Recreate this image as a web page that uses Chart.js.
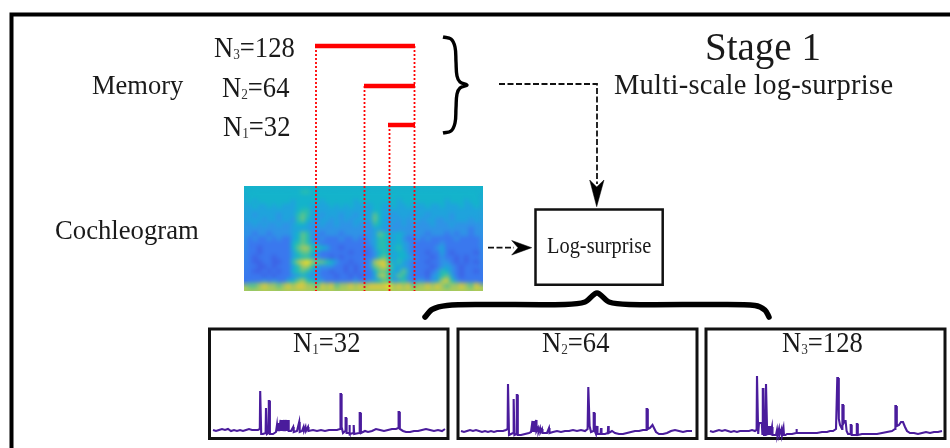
<!DOCTYPE html>
<html lang="en">
<head>
<meta charset="UTF-8">
<title>Stage 1 - Multi-scale log-surprise</title>
<script src="https://cdn.jsdelivr.net/npm/chart.js"></script>
<style>
    body { margin: 0; width: 950px; height: 448px; overflow: hidden; background: #fff; position: relative; }
    canvas { position: absolute; left: 0; top: 0; }
    #cochWrap { position: absolute; left: 244px; top: 186px; width: 239px; height: 105px; overflow: hidden;
                background: linear-gradient(#14b3cb, #2f93e6 45%, #3a78ee 90%, #a6c95e 97%); }
    #cochChart { filter: blur(2px); }
    .mini { filter: blur(0.4px); }
    .t { position: absolute; white-space: nowrap; line-height: 1; color: #1a1a1a; transform-origin: left top;
         font-family: "Liberation Serif", serif; font-size: 28px; }
    .t sub { font-size: 0.5em; vertical-align: -0.08em; line-height: 0; color: #333; }
    .n { transform: scale(.95, 1.06); }
</style>
</head>
<body>
<div id="cochWrap"><canvas id="cochChart" width="239" height="105"></canvas></div>
<canvas id="diagram" width="950" height="448"></canvas>
<canvas id="traceN1" class="mini" width="250" height="123" style="left:205px;top:325px"></canvas>
<canvas id="traceN2" class="mini" width="250" height="123" style="left:455px;top:326px"></canvas>
<canvas id="traceN3" class="mini" width="250" height="123" style="left:702px;top:326px"></canvas>

<div class="t" style="left:705px;top:27px;font-size:39px">Stage 1</div>
<div class="t" style="left:614px;top:71px;font-size:28.5px;letter-spacing:.26px">Multi-scale log-surprise</div>
<div class="t" style="left:92px;top:72px;font-size:26.5px">Memory</div>
<div class="t" style="left:55px;top:217px;font-size:26.7px">Cochleogram</div>
<div class="t n" style="left:214px;top:33px">N<sub>3</sub>=128</div>
<div class="t n" style="left:222px;top:73px">N<sub>2</sub>=64</div>
<div class="t n" style="left:223px;top:112px">N<sub>1</sub>=32</div>
<div class="t" style="left:547px;top:233px;font-size:24px;transform:scaleX(.85)">Log-surprise</div>
<div class="t n" style="left:293px;top:328px">N<sub>1</sub>=32</div>
<div class="t n" style="left:542px;top:328px">N<sub>2</sub>=64</div>
<div class="t n" style="left:782px;top:328px">N<sub>3</sub>=128</div>

<script>
    // log-surprise traces, [time, value]
    const seriesN1 = [[8,0],[11,-1],[14,0],[17,1],[20,0],[23,1],[26,-1],[29,0],[32,-1],[35,0],[38,-1],[41,0],[44,1],[47,0],[50,0],[53,0],[54.8,1],
        [55.2,39],[55.8,39],[56.2,-4],[58,-4],[60.6,-3],[61,22],[61.5,22],[62,-4],[63.4,-3],[63.8,29],[64.4,29],[64.9,-4],[68,-4],[71,-2],
        [72,5],[72.5,-1],[73.6,7],[74.1,-1],[75.6,10],[76.1,-1],[77.4,10],[77.9,-1],[79.4,10],[79.9,-1],[81.4,10],[81.9,-1],[83.2,10],[83.7,-1],
        [86,-1],[88.2,3],[88.7,-2],[92,-1],[94.2,8],[94.7,-2],[97,-1],[98.5,3],[99,-1],[100.5,3],[101,-1],[103,3],[103.5,-1],[108,0],[112,-1],[116,0],[120,-1],[124,0],[128,0],[132,0],[135,1],
        [135.5,36],[136,36],[136.6,3],[138,-3],[140.2,-1],[140.6,12],[141.1,12],[141.6,-3],[144,-3],[144.4,5],[144.9,-4],[148.3,-3],[148.7,5],[149.2,-4],[154,-3],[154.7,17],[155.3,17],[155.9,-3],
        [160,-1],[163,-2],[167,-1],[171,1],[175,0],[179,-1],[183,0],[187,1],[191,1],[193.2,2],[193.6,18],[194.2,18],[194.8,1],[198,-1],[201,-2],[205,-2],[209,-1],[213,-1],[217,0],[221,1],[225,0],[229,-1],[233,0],[237,-1],[240,1]];
    const seriesN2 = [[6,0],[9,-1],[12,0],[15,1],[18,0],[21,1],[24,0],[27,-1],[30,0],[33,-1],[36,0],[39,-1],[42,0],[45,0],[48,0],[51,1],[52.6,2],
        [53,47],[53.5,47],[54,-4],[56,-3],[58,-2],[58.4,32],[58.9,32],[59.4,-4],[61.4,-3],[61.8,36],[62.3,36],[62.8,-4],[66,-4],[70,-3],[74,-2],[76,-1],
        [77.5,10],[78,-1],[79,10],[79.5,-1],[81,11],[81.5,0],[83,3],[83.5,-1],[85,3],[85.5,-1],[87,2],[87.5,-2],[92,-2],[94,3],[94.5,-2],[98,-1],[102,0],[106,-1],[110,0],[114,0],[118,1],[122,0],[126,1],[130,0],[132.6,2],
        [133.3,44],[133.8,44],[134.6,5],[136,-1],[138.4,0],[138.7,18],[139.2,18],[139.8,0],[141,-3],[142,5],[142.5,-3],[145.6,-3],[146,3],[146.5,-3],[150,-3],[152.8,-2],[153.2,5],[153.7,-2],[157,0],
        [160,-2],[164,-3],[168,-3],[172,-2],[176,-1],[180,0],[184,0],[188,1],[191.2,1],[191.6,22],[192.2,22],[192.8,2],[195,3],[197.5,6],[199,3],[201,-1],[204,-3],[208,-3],[212,-2],[216,0],[220,1],[224,0],[228,-1],[232,0],[237,0]];
    const seriesN3 = [[8,0],[11,-1],[14,0],[17,1],[20,0],[23,1],[26,0],[29,-1],[32,0],[35,-1],[38,0],[41,0],[44,0],[47,0],[50,1],[53,0],[54.6,1],
        [55,55],[55.6,55],[56.2,-3],[57,8],[59.8,8],[60.4,-3],[60.8,42],[61.4,42],[62,-4],[63.6,-4],[64,47],[64.6,47],[65.2,-4],[66.5,5],[67,-4],[68,5],[68.5,-4],[70,4],[70.5,-4],
        [74,-4],[75,1],[75.5,-4],[77,2],[77.5,-4],[79.5,2],[80,-4],[81.5,3],[82,-4],[83.5,-4],[85,-3],[90,-3],[94,-2],[94.4,2],[94.9,-2],[100,-2],[105,-2],[110,-2],[115,-2],[120,-1],[125,-1],[128,0],[131,0],[134,2],
        [135.3,53],[136,53],[136.8,12],[138,6],[140,2],[140.4,26],[141,26],[141.6,8],[142.6,10],[143.6,10],[144.6,0],[146,-3],[148.4,-3],[148.7,6],[149.2,6],[149.7,-4],[154.4,-4],[154.8,7],[155.3,7],[155.8,-4],
        [160,-3],[165,-3],[170,-3],[175,-3],[180,-2],[185,-1],[190,0],[193,2],[193.4,25],[194,25],[194.8,5],[197,6],[199,9],[201,9],[203,4],[205,0],[208,-2],[212,-2],[216,-3],[220,-2],[224,-1],[228,-2],[232,-1],[236,-1],[240,0]];

    // cochleogram levels 0-9, one string per frequency band from the top
    const cochleogram = [
        "444444444445 544444444444 444444444444 444444444444",
        "444444444444 444444444444 444444444444 444444444444",
        "434444444344 444344444434 444444434444 444443444344",
        "343343433344 433334343433 334433433433 343343334334",
        "333333333345 533333333333 334433333333 333333333333",
        "323333233356 533233323323 336433233323 323333233333",
        "333233233256 432332323233 336432323233 233223233323",
        "232322322344 322322322232 225433223222 223222322222",
        "222222222333 322222222222 223322222222 222222222212",
        "212212222346 522122212222 223654343222 212221212212",
        "121121211346 521211121121 123553342112 121111121111",
        "111111111456 532111111111 123554343211 111121111111",
        "110111111467 755431101111 113553453211 111231111111",
        "110111111356 642111111011 012454344211 101131011110",
        "101110111345 532110101111 112564344321 110121101011",
        "100110011578 976654211011 127885353211 101122101010",
        "110010111357 753222110101 126786433211 110123210111",
        "100101011456 532110110101 114665336311 101254210110",
        "111010111234 322111011010 113775365211 102356310111",
        "111212113467 543211111121 123465235212 212378521111",
        "667877678788 776878677878 788889787867 787876778768"
    ].map(row => row.replace(/ /g, '').split('').map(Number));
    const levelColors = ['#3d63e6', '#3a78ee', '#2f93e6', '#1fa3dc', '#14b3cb', '#27bdb0', '#62c488', '#a6c95e', '#dccb3c', '#f6e21e'];

    Chart.defaults.animation = false;
    const hiddenAxis = (min, max, reverse) => ({ type: 'linear', display: false, min: min, max: max, reverse: !!reverse });
    const bare = { responsive: false, events: [], layout: { padding: 0 }, plugins: { legend: { display: false }, tooltip: { enabled: false } } };

    // spectrogram cells
    const cells = [];
    cochleogram.forEach((row, r) => row.forEach((level, c) => cells.push({ x: c + 0.5, y: r + 0.5, level: level })));
    new Chart(document.getElementById('cochChart'), {
        type: 'scatter',
        data: { datasets: [{ data: cells, pointStyle: 'rect', pointRadius: 4.2, borderWidth: 0, clip: false,
            backgroundColor: ctx => levelColors[ctx.raw.level] }] },
        options: { ...bare, scales: { x: hiddenAxis(0, 48), y: hiddenAxis(0, 20.7, true) } }
    });

    // the three small traces
    [['traceN1', seriesN1], ['traceN2', seriesN2], ['traceN3', seriesN3]].forEach(([id, series]) => {
        new Chart(document.getElementById(id), {
            type: 'scatter',
            data: { datasets: [{ data: series.map(p => ({ x: p[0], y: p[1] })), showLine: true, pointRadius: 0,
                borderColor: '#4a1c9c', borderWidth: 2.1, tension: 0 }] },
            options: { ...bare, scales: { x: hiddenAxis(0, 250), y: hiddenAxis(-18, 105) } }
        });
    });

    // diagram strokes on a page-sized scale
    const path = (pts, color, width, extra) => Object.assign({
        data: pts.map(p => ({ x: p[0], y: p[1] })), showLine: true, pointRadius: 0, borderColor: color, borderWidth: width,
        clip: false, fill: false, tension: 0, borderCapStyle: 'butt'
    }, extra || {});
    const head = pts => path(pts, '#000', 0.5, { fill: 'shape', backgroundColor: '#000' });
    const rect = (x0, y0, x1, y1, w) => path([[x0, y0], [x1, y0], [x1, y1], [x0, y1], [x0, y0 - w / 2]], '#111', w);
    const dotted = { borderDash: [2, 2] };
    const dashed = { borderDash: [6, 2.5] };

    new Chart(document.getElementById('diagram'), {
        type: 'scatter',
        data: { datasets: [
            path([[950, 14.5], [11.5, 14.5], [11.5, 448]], '#000', 4),
            path([[315, 46], [415, 46]], '#f00', 4.5),
            path([[364, 86], [415, 86]], '#f00', 4.5),
            path([[388, 125], [415, 125]], '#f00', 4.5),
            path([[316, 46], [316, 291]], '#f00', 1.8, dotted),
            path([[364.5, 86], [364.5, 291]], '#f00', 1.8, dotted),
            path([[389.5, 125], [389.5, 291]], '#f00', 1.8, dotted),
            path([[414.5, 46], [414.5, 291]], '#f00', 1.8, dotted),
            path([[443, 37], [451, 39], [455, 47], [456, 62], [457, 76], [460, 82], [467, 85], [460, 88], [457, 94], [456, 108], [455, 123], [451, 131], [443, 133]], '#000', 3.4, { tension: 0.4 }),
            path([[499, 84], [597, 84], [597, 184]], '#111', 1.8, dashed),
            head([[596.7, 206.7], [604, 180], [596.7, 187], [589.7, 180], [596.7, 206.7]]),
            path([[488, 247.7], [514, 247.7]], '#111', 1.8, dashed),
            head([[531.7, 247.7], [511.7, 240.5], [518, 247.7], [511.7, 255], [531.7, 247.7]]),
            rect(535.5, 209.5, 662.7, 284.7, 2.5),
            path([[425, 317], [432, 309.5], [447, 305.5], [480, 304.5], [565, 304.5], [585, 302], [597, 293], [609, 302], [629, 304.5], [720, 304.5], [755, 305.5], [765, 310], [769, 317]], '#000', 5.5, { tension: 0.3, borderCapStyle: 'round' }),
            rect(209.5, 329, 448, 438.5, 3),
            rect(458, 329, 697, 438.5, 3),
            rect(706, 329, 945, 438.5, 3)
        ] },
        options: { ...bare, scales: { x: hiddenAxis(0, 950), y: hiddenAxis(0, 448, true) } }
    });
</script>
</body>
</html>
